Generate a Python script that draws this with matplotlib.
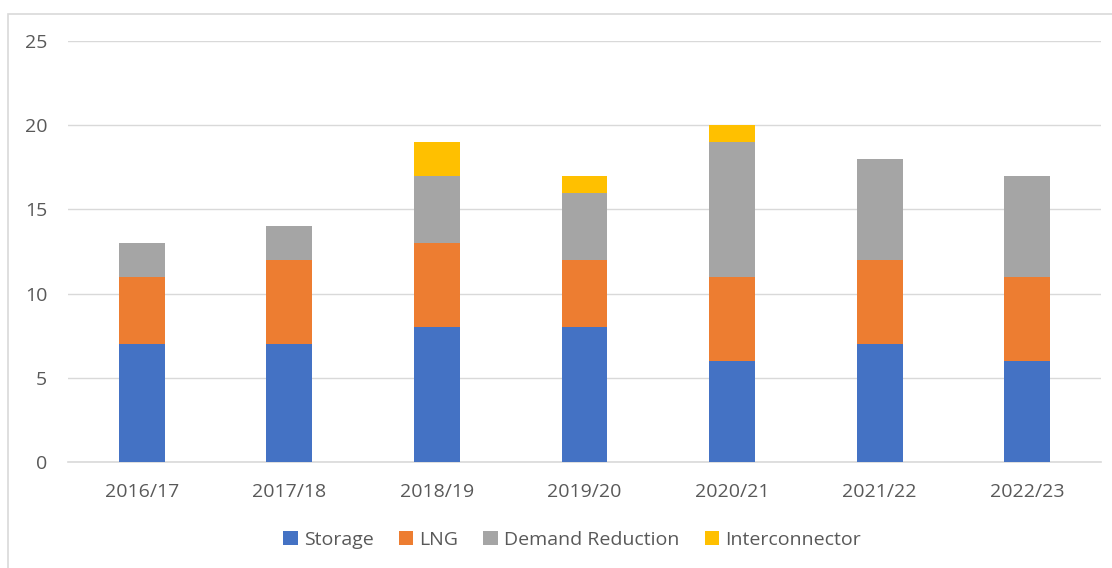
import numpy as np
import matplotlib.pyplot as plt
from matplotlib.patches import Rectangle

years = ["2016/17", "2017/18", "2018/19", "2019/20", "2020/21", "2021/22", "2022/23"]
storage = [7, 7, 8, 8, 6, 7, 6]
lng = [4, 5, 5, 4, 5, 5, 5]
demand = [2, 2, 4, 4, 8, 6, 6]
interconnector = [0, 0, 2, 1, 1, 0, 0]

series = [
    ("Storage", storage, "#4472C4"),
    ("LNG", lng, "#ED7D31"),
    ("Demand Reduction", demand, "#A5A5A5"),
    ("Interconnector", interconnector, "#FFC000"),
]

plt.rcParams["font.family"] = ["Open Sans", "DejaVu Sans"]

fig = plt.figure(figsize=(11.12, 5.68), dpi=100)
W, H = 1112, 568
ax = fig.add_axes([68 / W, 1 - 462 / H, (1101 - 68) / W, (462 - 41) / H])

# chart border
fig.patches.append(Rectangle((8 / W, -0.05), 1.2, 1 - 14 / H + 0.05,
                             transform=fig.transFigure, fill=False,
                             edgecolor="#D9D9D9", linewidth=1.2))

x = np.arange(len(years))
bottom = np.zeros(len(years))
handles = []
for name, vals, col in series:
    b = ax.bar(x, vals, 0.31, bottom=bottom, color=col, label=name, zorder=3)
    bottom += np.array(vals)
    handles.append(b)

ax.set_xlim(-0.5, len(years) - 0.5)
ax.set_ylim(0, 25)
ax.set_yticks(range(0, 26, 5))
ax.set_xticks(x)
ax.set_xticklabels(years)
ax.grid(axis="y", color="#D9D9D9", linewidth=1, zorder=0)
for s in ["top", "right", "left"]:
    ax.spines[s].set_visible(False)
ax.spines["bottom"].set_color("#D9D9D9")
ax.spines["bottom"].set_linewidth(1.2)
ax.tick_params(length=0, labelsize=14, colors="#595959")
ax.tick_params(axis="x", pad=15)
ax.tick_params(axis="y", pad=15)

fig.legend(handles=handles, loc="center", bbox_to_anchor=(572 / W, 1 - 540 / H),
           ncol=4, frameon=False, fontsize=14, handlelength=0.75,
           handleheight=0.75, handletextpad=0.3, columnspacing=1.3,
           labelcolor="#595959")

fig.savefig("out.png", dpi=100)
